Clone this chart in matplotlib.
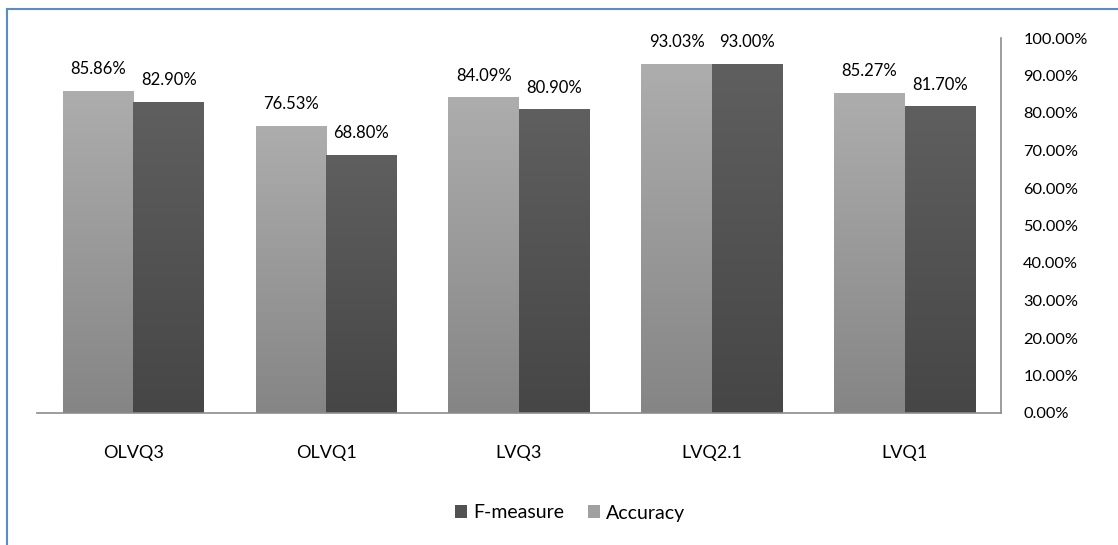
import numpy as np
import matplotlib.pyplot as plt
from matplotlib.colors import LinearSegmentedColormap
from matplotlib.patches import Patch
from matplotlib.lines import Line2D

plt.rcParams['font.family'] = ['Lato', 'DejaVu Sans']

categories = ['OLVQ3', 'OLVQ1', 'LVQ3', 'LVQ2.1', 'LVQ1']
accuracy = [85.86, 76.53, 84.09, 93.03, 85.27]
fmeasure = [82.90, 68.80, 80.90, 93.00, 81.70]
acc_labels = ['85.86%', '76.53%', '84.09%', '93.03%', '85.27%']
fm_labels = ['82.90%', '68.80%', '80.90%', '93.00%', '81.70%']

light_cmap = LinearSegmentedColormap.from_list('light', ['#858585', '#adadad'])
dark_cmap = LinearSegmentedColormap.from_list('dark', ['#464646', '#5f5f5f'])

fig = plt.figure(figsize=(11.18, 5.45), dpi=100)
ax = fig.add_axes([37 / 1118, 1 - 413 / 545, (1001 - 37) / 1118, (413 - 38) / 545])

x = np.arange(len(categories))
w = 0.366
grad = np.linspace(0, 1, 256).reshape(-1, 1)

def gradient_bar(xc, h, cmap):
    # vertical gradient, darker at the bottom
    ax.imshow(grad, cmap=cmap, origin='lower', aspect='auto',
              extent=[xc - w / 2, xc + w / 2, 0, h], zorder=2)

for i in range(len(categories)):
    gradient_bar(x[i] - w / 2, accuracy[i], light_cmap)
    gradient_bar(x[i] + w / 2, fmeasure[i], dark_cmap)
    ax.text(x[i] - w / 2, accuracy[i] + 3.7, acc_labels[i], ha='center', va='bottom',
            fontsize=12, color='#000000')
    ax.text(x[i] + w / 2, fmeasure[i] + 3.7, fm_labels[i], ha='center', va='bottom',
            fontsize=12, color='#000000')

ax.set_xlim(-0.5, len(categories) - 0.5)
ax.set_ylim(0, 100)
ax.set_xticks(x)
ax.set_xticklabels(categories, fontsize=13)
ax.set_yticks(np.arange(0, 101, 10))
ax.set_yticklabels(['%.2f%%' % v for v in np.arange(0, 101, 10)], fontsize=11.8)
ax.yaxis.tick_right()
ax.tick_params(axis='both', length=0)
ax.tick_params(axis='x', pad=23)
ax.tick_params(axis='y', pad=16)
for lbl in ax.get_yticklabels():
    lbl.set_horizontalalignment('left')

ax.spines['top'].set_visible(False)
ax.spines['left'].set_visible(False)
ax.spines['bottom'].set_color('#8c8c8c')
ax.spines['right'].set_color('#8c8c8c')
ax.spines['bottom'].set_linewidth(1.2)
ax.spines['right'].set_linewidth(1.2)

handles = [Patch(facecolor='#525252', label='F-measure'),
           Patch(facecolor='#a0a0a0', label='Accuracy')]
fig.legend(handles=handles, loc='center', bbox_to_anchor=(570 / 1118, 1 - 513 / 545),
           ncol=2, frameon=False, fontsize=14, handlelength=0.65, handleheight=0.65,
           handletextpad=0.3, columnspacing=1.2)

# blue outer border (left and top)
fig.add_artist(Line2D([7 / 1118, 7 / 1118], [0, 1 - 9 / 545], color='#5b8bc9', lw=1.5,
                      transform=fig.transFigure))
fig.add_artist(Line2D([7 / 1118, 1], [1 - 9 / 545, 1 - 9 / 545], color='#5b8bc9', lw=1.5,
                      transform=fig.transFigure))

fig.savefig('out.png', dpi=100)
